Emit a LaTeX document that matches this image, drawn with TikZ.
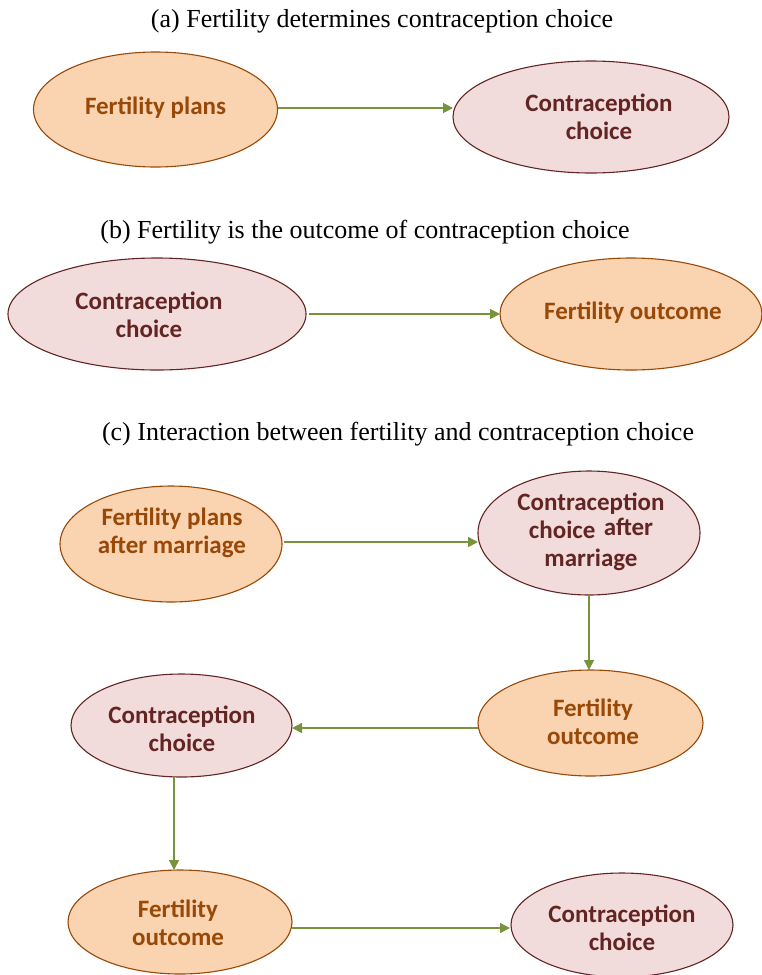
\documentclass[tikz,border=0pt]{standalone}
\usepackage{fontspec}
\setmainfont{Liberation Serif}
\newfontfamily\calib{Carlito}
\usetikzlibrary{arrows.meta}
\definecolor{orfill}{HTML}{FAD3B1}
\definecolor{ordraw}{HTML}{984807}
\definecolor{ortext}{HTML}{984807}
\definecolor{pkfill}{HTML}{F2DCDB}
\definecolor{pkdraw}{HTML}{632523}
\definecolor{pktext}{HTML}{632523}
\definecolor{arr}{HTML}{77933C}
\begin{document}
\begin{tikzpicture}[x=1pt,y=-1pt,
  ttl/.style={font=\fontsize{26}{30}\selectfont, inner sep=0pt},
  lab/.style={font=\calib\bfseries\fontsize{25}{28}\selectfont, align=center, inner sep=0pt},
  orl/.style={lab, text=ortext},
  pkl/.style={lab, text=pktext},
  orell/.style={fill=orfill, draw=ordraw, line width=1.1pt},
  pkell/.style={fill=pkfill, draw=pkdraw, line width=1.1pt},
  link/.style={draw=arr, line width=1.5pt, -{Triangle[length=10pt,width=10pt]}}
]
\useasboundingbox (0,0) rectangle (761,975);
% titles
\node[ttl] (ta) at (382,21) {(a) Fertility determines contraception choice};
\node[ttl] (tb) at (365,232) {(b) Fertility is the outcome of contraception choice};
\node[ttl] (tc) at (398,434) {(c) Interaction between fertility and contraception choice};

% (a)
\draw[orell] (155.5,109.5) ellipse [x radius=122, y radius=57.5];
\node[orl] (a1) at (155.5,108) {Fertility plans};
\draw[pkell] (591,117) ellipse [x radius=138, y radius=56];
\node[pkl] (a2) at (599,117) {Contraception\\choice};
\coordinate (a1e) at (278,108);
\coordinate (a2w) at (453,108);
\draw[link] (a1e) -- (a2w);

% (b)
\draw[pkell] (157,314) ellipse [x radius=149, y radius=56];
\node[pkl] (b1) at (149,315) {Contraception\\choice};
\draw[orell] (631,314) ellipse [x radius=131, y radius=56];
\node[orl] (b2) at (633,313) {Fertility outcome};
\coordinate (b1e) at (309,314);
\coordinate (b2w) at (500,314);
\draw[link] (b1e) -- (b2w);

% (c)
\draw[orell] (171,544) ellipse [x radius=111, y radius=58];
\node[orl] (c1) at (172,533) {Fertility plans\\after marriage};
\draw[pkell] (589,533) ellipse [x radius=111, y radius=62];
\node[pkl] (c2) at (591,532) {Contraception\\choice\,\,\raisebox{3pt}{after}\\marriage};
\draw[orell] (590.5,723) ellipse [x radius=112.5, y radius=53];
\node[orl] (c3) at (593,722) {Fertility\\outcome};
\draw[pkell] (181.5,725.5) ellipse [x radius=110.5, y radius=51.5];
\node[pkl] (c4) at (182,729) {Contraception\\choice};
\draw[orell] (180,922) ellipse [x radius=112, y radius=52];
\node[orl] (c5) at (178,923) {Fertility\\outcome};
\draw[pkell] (622,925) ellipse [x radius=111, y radius=52];
\node[pkl] (c6) at (622,928) {Contraception\\choice};

\coordinate (c1e) at (284,542);
\coordinate (c2w) at (478,542);
\draw[link] (c1e) -- (c2w);
\coordinate (c2s) at (589,595);
\coordinate (c3n) at (589,670);
\draw[link] (c2s) -- (c3n);
\coordinate (c3w) at (478,728);
\coordinate (c4e) at (292,728);
\draw[link] (c3w) -- (c4e);
\coordinate (c4s) at (174,777);
\coordinate (c5n) at (174,870);
\draw[link] (c4s) -- (c5n);
\coordinate (c5e) at (292,928);
\coordinate (c6w) at (510,928);
\draw[link] (c5e) -- (c6w);
\end{tikzpicture}
\end{document}
